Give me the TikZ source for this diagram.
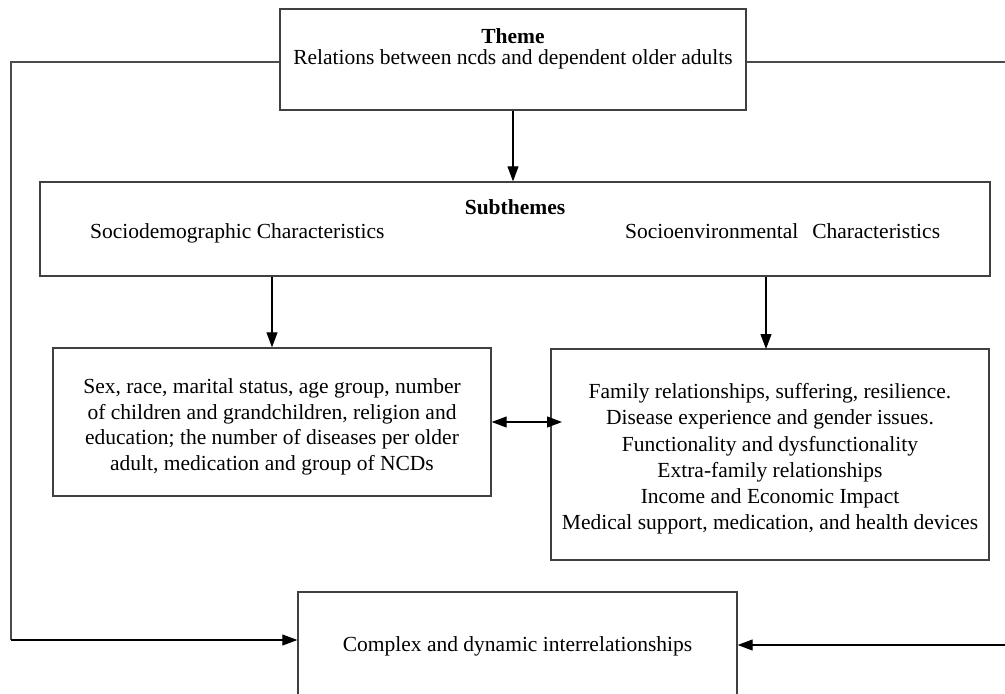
\documentclass[tikz,border=0pt]{standalone}
\usepackage{fontspec}
\setmainfont{Liberation Serif}
\usetikzlibrary{arrows.meta}
\begin{document}
\begin{tikzpicture}[x=1pt,y=-1pt,
  box/.style={draw=black!75, line width=1.4pt, inner sep=0pt},
  txt/.style={font=\fontsize{21.5}{25.5}\selectfont, align=center, inner sep=0pt},
  conn/.style={draw=black, line width=1.1pt},
  gconn/.style={draw=black!70, line width=1.5pt},
  tip/.tip={Triangle[length=15pt,width=11pt]},
  arr/.style={conn, -tip},
  darr/.style={conn, tip-tip},
]
\useasboundingbox (0,0) rectangle (1005,694);
\fill[white] (0,0) rectangle (1005,694);

% boxes
\node[box, minimum width=466pt, minimum height=101pt] (theme) at (513,59.5) {};
\node[txt, anchor=base] (themet) at (513,43) {\textbf{Theme}};
\node[txt, anchor=base] (themes) at (513,64) {Relations between ncds and dependent older adults};

\node[box, minimum width=950pt, minimum height=94pt] (sub) at (515,229) {};
\node[txt, anchor=base] (subt) at (515,214) {\textbf{Subthemes}};
\node[txt, anchor=base west] (subl) at (90,238) {Sociodemographic Characteristics};
\node[txt, anchor=base west] (subr) at (625,238) {Socioenvironmental\hspace{0.4em} Characteristics};

\node[box, minimum width=438pt, minimum height=148pt] (lb) at (272,422) {};
\node[txt] (lbt) at (272,427) {Sex, race, marital status, age group, number\\of children and grandchildren, religion and\\education; the number of diseases per older\\adult, medication and group of NCDs};

\node[box, minimum width=438pt, minimum height=211pt] (rb) at (770,454.5) {};
\node[txt, font=\fontsize{21.5}{26.2}\selectfont] (rbt) at (770,459) {Family relationships, suffering, resilience.\\Disease experience and gender issues.\\Functionality and dysfunctionality\\Extra-family relationships\\Income and Economic Impact\\Medical support, medication, and health devices};

\node[box, minimum width=439pt, minimum height=108pt] (cx) at (517.5,646) {};
\node[txt, anchor=base] (cxt) at (517.5,651) {Complex and dynamic interrelationships};

% connectors
\draw[arr] (theme.south) -- (theme.south |- sub.north);
\draw[arr] (sub.south -| lb.north) -- (lb.north);
\coordinate (rtop) at (766,349);
\draw[arr] (sub.south -| rtop) -- (rtop);
\coordinate (dR) at (562,422);
\draw[darr] (lb.east |- dR) -- (dR);

\coordinate (fl1) at (11,62);
\coordinate (fl2) at (11,640);
\draw[gconn] (theme.west |- fl1) -- (fl1) -- (fl2);
\draw[arr] (fl2) -- (fl2 -| cx.west);

\coordinate (fr1) at (1006,62);
\coordinate (fr2) at (1006,645);
\draw[gconn] (theme.east |- fr1) -- (fr1);
\draw[arr] (fr2) -- (fr2 -| cx.east);
\end{tikzpicture}
\end{document}
